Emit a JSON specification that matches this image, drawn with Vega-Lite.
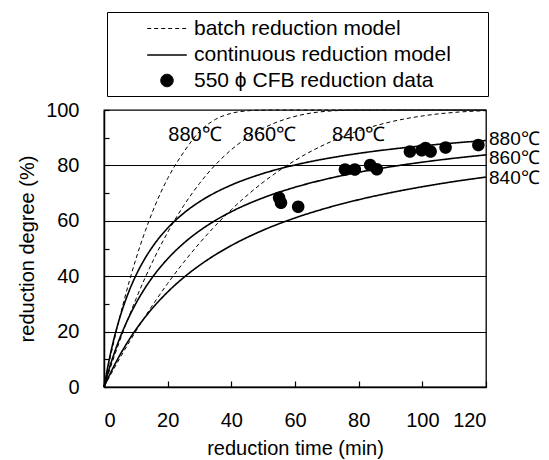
{
  "$schema": "https://vega.github.io/schema/vega-lite/v6.json",
  "width": 382,
  "height": 277,
  "autosize": {"type": "none"},
  "padding": {"left": 104, "top": 110, "right": 63, "bottom": 73},
  "background": "white",
  "config": {
    "font": "Liberation Sans",
    "view": {"stroke": "black", "strokeWidth": 1.3},
    "axis": {
      "domainColor": "black", "domainWidth": 1.5, "tickColor": "black", "tickWidth": 1.2,
      "labelColor": "black", "titleColor": "black", "labelFontSize": 20, "titleFontSize": 20,
      "titleFontWeight": "normal", "labelFont": "Liberation Sans", "titleFont": "Liberation Sans"
    },
    "legend": {
      "labelFont": "Liberation Sans", "labelFontSize": 21, "labelColor": "black",
      "symbolStrokeColor": "black", "symbolFillColor": "black", "symbolSize": 484,
      "fillColor": "white", "strokeColor": "black", "padding": 5, "rowPadding": 4,
      "symbolOffset": 43, "labelOffset": 15, "labelLimit": 400,
      "titleFontSize": 8, "titleOrient": "right", "titlePadding": 32
    }
  },
  "datasets": {
    "curves": [
      {"t": 0, "y": 0, "model": "batch reduction model", "temp": "880"},
      {"t": 2, "y": 10.76, "model": "batch reduction model", "temp": "880"},
      {"t": 4, "y": 20.72, "model": "batch reduction model", "temp": "880"},
      {"t": 6, "y": 29.91, "model": "batch reduction model", "temp": "880"},
      {"t": 8, "y": 38.37, "model": "batch reduction model", "temp": "880"},
      {"t": 10, "y": 46.11, "model": "batch reduction model", "temp": "880"},
      {"t": 13, "y": 56.46, "model": "batch reduction model", "temp": "880"},
      {"t": 16, "y": 65.4, "model": "batch reduction model", "temp": "880"},
      {"t": 20, "y": 75.28, "model": "batch reduction model", "temp": "880"},
      {"t": 25, "y": 84.73, "model": "batch reduction model", "temp": "880"},
      {"t": 30, "y": 92.2, "model": "batch reduction model", "temp": "880"},
      {"t": 35, "y": 96.6, "model": "batch reduction model", "temp": "880"},
      {"t": 40, "y": 98.8, "model": "batch reduction model", "temp": "880"},
      {"t": 45, "y": 99.7, "model": "batch reduction model", "temp": "880"},
      {"t": 50, "y": 99.97, "model": "batch reduction model", "temp": "880"},
      {"t": 54, "y": 100, "model": "batch reduction model", "temp": "880"},
      {"t": 60, "y": 100, "model": "batch reduction model", "temp": "880"},
      {"t": 80, "y": 100, "model": "batch reduction model", "temp": "880"},
      {"t": 100, "y": 100, "model": "batch reduction model", "temp": "880"},
      {"t": 120, "y": 100, "model": "batch reduction model", "temp": "880"},
      {"t": 0, "y": 0, "model": "batch reduction model", "temp": "860"},
      {"t": 2, "y": 6.98, "model": "batch reduction model", "temp": "860"},
      {"t": 4, "y": 13.63, "model": "batch reduction model", "temp": "860"},
      {"t": 6, "y": 19.96, "model": "batch reduction model", "temp": "860"},
      {"t": 8, "y": 25.96, "model": "batch reduction model", "temp": "860"},
      {"t": 10, "y": 31.66, "model": "batch reduction model", "temp": "860"},
      {"t": 13, "y": 39.65, "model": "batch reduction model", "temp": "860"},
      {"t": 16, "y": 46.99, "model": "batch reduction model", "temp": "860"},
      {"t": 20, "y": 55.82, "model": "batch reduction model", "temp": "860"},
      {"t": 25, "y": 65.4, "model": "batch reduction model", "temp": "860"},
      {"t": 30, "y": 73.49, "model": "batch reduction model", "temp": "860"},
      {"t": 35, "y": 80.2, "model": "batch reduction model", "temp": "860"},
      {"t": 40, "y": 85.67, "model": "batch reduction model", "temp": "860"},
      {"t": 45, "y": 90.03, "model": "batch reduction model", "temp": "860"},
      {"t": 50, "y": 93.4, "model": "batch reduction model", "temp": "860"},
      {"t": 55, "y": 95.91, "model": "batch reduction model", "temp": "860"},
      {"t": 60, "y": 97.69, "model": "batch reduction model", "temp": "860"},
      {"t": 70, "y": 99.55, "model": "batch reduction model", "temp": "860"},
      {"t": 80, "y": 99.99, "model": "batch reduction model", "temp": "860"},
      {"t": 84, "y": 100, "model": "batch reduction model", "temp": "860"},
      {"t": 100, "y": 100, "model": "batch reduction model", "temp": "860"},
      {"t": 120, "y": 100, "model": "batch reduction model", "temp": "860"},
      {"t": 0, "y": 0, "model": "batch reduction model", "temp": "840"},
      {"t": 2, "y": 4.27, "model": "batch reduction model", "temp": "840"},
      {"t": 4, "y": 8.41, "model": "batch reduction model", "temp": "840"},
      {"t": 6, "y": 12.44, "model": "batch reduction model", "temp": "840"},
      {"t": 8, "y": 16.35, "model": "batch reduction model", "temp": "840"},
      {"t": 10, "y": 20.13, "model": "batch reduction model", "temp": "840"},
      {"t": 13, "y": 25.6, "model": "batch reduction model", "temp": "840"},
      {"t": 16, "y": 30.81, "model": "batch reduction model", "temp": "840"},
      {"t": 20, "y": 37.37, "model": "batch reduction model", "temp": "840"},
      {"t": 25, "y": 44.96, "model": "batch reduction model", "temp": "840"},
      {"t": 30, "y": 51.92, "model": "batch reduction model", "temp": "840"},
      {"t": 35, "y": 58.27, "model": "batch reduction model", "temp": "840"},
      {"t": 40, "y": 64.03, "model": "batch reduction model", "temp": "840"},
      {"t": 50, "y": 73.91, "model": "batch reduction model", "temp": "840"},
      {"t": 60, "y": 81.79, "model": "batch reduction model", "temp": "840"},
      {"t": 70, "y": 87.9, "model": "batch reduction model", "temp": "840"},
      {"t": 80, "y": 92.46, "model": "batch reduction model", "temp": "840"},
      {"t": 90, "y": 95.71, "model": "batch reduction model", "temp": "840"},
      {"t": 100, "y": 97.85, "model": "batch reduction model", "temp": "840"},
      {"t": 110, "y": 99.13, "model": "batch reduction model", "temp": "840"},
      {"t": 120, "y": 99.76, "model": "batch reduction model", "temp": "840"},
      {"t": 0, "y": 0, "model": "continuous reduction model", "temp": "880"},
      {"t": 2, "y": 11.86, "model": "continuous reduction model", "temp": "880"},
      {"t": 4, "y": 21.21, "model": "continuous reduction model", "temp": "880"},
      {"t": 6, "y": 28.77, "model": "continuous reduction model", "temp": "880"},
      {"t": 8, "y": 35.0, "model": "continuous reduction model", "temp": "880"},
      {"t": 10, "y": 40.23, "model": "continuous reduction model", "temp": "880"},
      {"t": 13, "y": 46.66, "model": "continuous reduction model", "temp": "880"},
      {"t": 16, "y": 51.85, "model": "continuous reduction model", "temp": "880"},
      {"t": 20, "y": 57.37, "model": "continuous reduction model", "temp": "880"},
      {"t": 25, "y": 62.72, "model": "continuous reduction model", "temp": "880"},
      {"t": 30, "y": 66.88, "model": "continuous reduction model", "temp": "880"},
      {"t": 35, "y": 70.2, "model": "continuous reduction model", "temp": "880"},
      {"t": 40, "y": 72.91, "model": "continuous reduction model", "temp": "880"},
      {"t": 50, "y": 77.09, "model": "continuous reduction model", "temp": "880"},
      {"t": 60, "y": 80.15, "model": "continuous reduction model", "temp": "880"},
      {"t": 70, "y": 82.49, "model": "continuous reduction model", "temp": "880"},
      {"t": 80, "y": 84.34, "model": "continuous reduction model", "temp": "880"},
      {"t": 90, "y": 85.83, "model": "continuous reduction model", "temp": "880"},
      {"t": 100, "y": 87.06, "model": "continuous reduction model", "temp": "880"},
      {"t": 110, "y": 88.1, "model": "continuous reduction model", "temp": "880"},
      {"t": 120, "y": 88.98, "model": "continuous reduction model", "temp": "880"},
      {"t": 0, "y": 0, "model": "continuous reduction model", "temp": "860"},
      {"t": 2, "y": 7.94, "model": "continuous reduction model", "temp": "860"},
      {"t": 4, "y": 14.71, "model": "continuous reduction model", "temp": "860"},
      {"t": 6, "y": 20.55, "model": "continuous reduction model", "temp": "860"},
      {"t": 8, "y": 25.64, "model": "continuous reduction model", "temp": "860"},
      {"t": 10, "y": 30.12, "model": "continuous reduction model", "temp": "860"},
      {"t": 13, "y": 35.91, "model": "continuous reduction model", "temp": "860"},
      {"t": 16, "y": 40.82, "model": "continuous reduction model", "temp": "860"},
      {"t": 20, "y": 46.29, "model": "continuous reduction model", "temp": "860"},
      {"t": 25, "y": 51.87, "model": "continuous reduction model", "temp": "860"},
      {"t": 30, "y": 56.39, "model": "continuous reduction model", "temp": "860"},
      {"t": 35, "y": 60.14, "model": "continuous reduction model", "temp": "860"},
      {"t": 40, "y": 63.29, "model": "continuous reduction model", "temp": "860"},
      {"t": 50, "y": 68.3, "model": "continuous reduction model", "temp": "860"},
      {"t": 60, "y": 72.11, "model": "continuous reduction model", "temp": "860"},
      {"t": 70, "y": 75.11, "model": "continuous reduction model", "temp": "860"},
      {"t": 80, "y": 77.52, "model": "continuous reduction model", "temp": "860"},
      {"t": 90, "y": 79.5, "model": "continuous reduction model", "temp": "860"},
      {"t": 100, "y": 81.17, "model": "continuous reduction model", "temp": "860"},
      {"t": 110, "y": 82.58, "model": "continuous reduction model", "temp": "860"},
      {"t": 120, "y": 83.8, "model": "continuous reduction model", "temp": "860"},
      {"t": 0, "y": 0, "model": "continuous reduction model", "temp": "840"},
      {"t": 2, "y": 4.96, "model": "continuous reduction model", "temp": "840"},
      {"t": 4, "y": 9.45, "model": "continuous reduction model", "temp": "840"},
      {"t": 6, "y": 13.54, "model": "continuous reduction model", "temp": "840"},
      {"t": 8, "y": 17.27, "model": "continuous reduction model", "temp": "840"},
      {"t": 10, "y": 20.7, "model": "continuous reduction model", "temp": "840"},
      {"t": 13, "y": 25.33, "model": "continuous reduction model", "temp": "840"},
      {"t": 16, "y": 29.46, "model": "continuous reduction model", "temp": "840"},
      {"t": 20, "y": 34.3, "model": "continuous reduction model", "temp": "840"},
      {"t": 25, "y": 39.49, "model": "continuous reduction model", "temp": "840"},
      {"t": 30, "y": 43.91, "model": "continuous reduction model", "temp": "840"},
      {"t": 35, "y": 47.74, "model": "continuous reduction model", "temp": "840"},
      {"t": 40, "y": 51.08, "model": "continuous reduction model", "temp": "840"},
      {"t": 50, "y": 56.62, "model": "continuous reduction model", "temp": "840"},
      {"t": 60, "y": 61.03, "model": "continuous reduction model", "temp": "840"},
      {"t": 70, "y": 64.63, "model": "continuous reduction model", "temp": "840"},
      {"t": 80, "y": 67.62, "model": "continuous reduction model", "temp": "840"},
      {"t": 90, "y": 70.14, "model": "continuous reduction model", "temp": "840"},
      {"t": 100, "y": 72.3, "model": "continuous reduction model", "temp": "840"},
      {"t": 110, "y": 74.17, "model": "continuous reduction model", "temp": "840"},
      {"t": 120, "y": 75.8, "model": "continuous reduction model", "temp": "840"}
    ],
    "points": [
      {"t": 55.0, "y": 68.3, "model": "550 ϕ CFB reduction data"},
      {"t": 55.6, "y": 66.5, "model": "550 ϕ CFB reduction data"},
      {"t": 61.0, "y": 65.1, "model": "550 ϕ CFB reduction data"},
      {"t": 75.7, "y": 78.5, "model": "550 ϕ CFB reduction data"},
      {"t": 78.8, "y": 78.5, "model": "550 ϕ CFB reduction data"},
      {"t": 83.6, "y": 80.1, "model": "550 ϕ CFB reduction data"},
      {"t": 85.7, "y": 78.6, "model": "550 ϕ CFB reduction data"},
      {"t": 96.1, "y": 85.0, "model": "550 ϕ CFB reduction data"},
      {"t": 99.8, "y": 85.5, "model": "550 ϕ CFB reduction data"},
      {"t": 101.0, "y": 86.3, "model": "550 ϕ CFB reduction data"},
      {"t": 102.6, "y": 85.0, "model": "550 ϕ CFB reduction data"},
      {"t": 107.3, "y": 86.5, "model": "550 ϕ CFB reduction data"},
      {"t": 117.6, "y": 87.4, "model": "550 ϕ CFB reduction data"}
    ],
    "topLabels": [
      {"t": 28.6, "y": 91.0, "label": "880℃"},
      {"t": 52.0, "y": 91.0, "label": "860℃"},
      {"t": 80.0, "y": 91.0, "label": "840℃"}
    ],
    "endLabels": [
      {"t": 120, "y": 89.6, "label": "880℃"},
      {"t": 120, "y": 82.6, "label": "860℃"},
      {"t": 120, "y": 75.3, "label": "840℃"}
    ]
  },
  "encoding": {
    "x": {
      "field": "t", "type": "quantitative",
      "scale": {"domain": [0, 120], "nice": false},
      "axis": {
        "values": [0, 20, 40, 60, 80, 100, 120], "tickSize": -6, "labelPadding": 29,
        "grid": false, "title": "reduction time (min)", "titlePadding": 8
      }
    },
    "y": {
      "field": "y", "type": "quantitative",
      "scale": {"domain": [0, 100], "nice": false},
      "axis": {
        "values": [0, 10, 20, 30, 40, 50, 60, 70, 80, 90, 100],
        "labelExpr": "datum.value % 20 === 0 ? datum.label : ''",
        "tickSize": -5, "labelPadding": 30,
        "grid": true, "gridColor": "black", "gridWidth": 1,
        "gridOpacity": {"condition": {"test": "datum.value % 20 === 0 && datum.value > 0 && datum.value < 100", "value": 1}, "value": 0},
        "title": "reduction degree (%)", "titlePadding": 8
      }
    }
  },
  "layer": [
    {
      "data": {"name": "curves"},
      "mark": {"type": "line", "color": "black", "interpolate": "monotone"},
      "encoding": {
        "detail": {"field": "temp", "type": "nominal"},
        "strokeDash": {
          "field": "model", "type": "nominal",
          "scale": {"domain": ["batch reduction model", "continuous reduction model", "550 ϕ CFB reduction data"], "range": [[4, 3], [1, 0], [1, 0]]},
          "legend": {"title": " ", "orient": "none", "legendX": 3, "legendY": -98,
                     "encode": {"symbols": {"update": {"stroke": {"value": "black"}, "fill": {"value": "black"}}}}}
        },
        "strokeWidth": {
          "field": "model", "type": "nominal",
          "scale": {"type": "ordinal", "domain": ["batch reduction model", "continuous reduction model", "550 ϕ CFB reduction data"], "range": [1, 1.6, 1]},
          "legend": {"title": " ", "orient": "none", "legendX": 3, "legendY": -98,
                     "encode": {"symbols": {"update": {"stroke": {"value": "black"}, "fill": {"value": "black"}}}}}
        }
      }
    },
    {
      "data": {"name": "points"},
      "mark": {"type": "point", "filled": true, "color": "black", "opacity": 1, "size": 484},
      "encoding": {
        "shape": {
          "field": "model", "type": "nominal",
          "scale": {"domain": ["batch reduction model", "continuous reduction model", "550 ϕ CFB reduction data"], "range": ["M-1.8,0H1.8", "M-1.8,0H1.8", "M0,-0.57A0.57,0.57,0,1,1,0,0.57A0.57,0.57,0,1,1,0,-0.57Z"]},
          "legend": {"title": " ", "orient": "none", "legendX": 3, "legendY": -98,
                     "encode": {"symbols": {"update": {"stroke": {"value": "black"}, "fill": {"value": "black"}}}}}
        }
      }
    },
    {
      "data": {"name": "topLabels"},
      "mark": {"type": "text", "fontSize": 20, "align": "center", "baseline": "middle", "color": "black"},
      "encoding": {"text": {"field": "label"}}
    },
    {
      "data": {"name": "endLabels"},
      "mark": {"type": "text", "fontSize": 19, "align": "left", "baseline": "middle", "dx": 3, "color": "black"},
      "encoding": {"text": {"field": "label"}}
    }
  ]
}
